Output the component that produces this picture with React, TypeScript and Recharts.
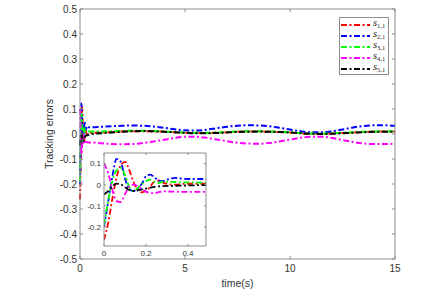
import { LineChart, Line, XAxis, YAxis, Legend } from 'recharts';

// sample times: dense during the transient, coarse afterwards
const time = [
  0, 0.02, 0.04, 0.06, 0.08, 0.1, 0.12, 0.14, 0.16, 0.18, 0.2, 0.22, 0.24, 0.26, 0.28, 0.3, 0.34, 0.38, 0.42, 0.46,
  0.5, 1, 1.5, 2, 2.5, 3, 3.5, 4, 4.5, 5, 5.5, 6, 6.5, 7, 7.5, 8, 8.5, 9, 9.5, 10, 10.5, 11, 11.5, 12, 12.5, 13, 13.5, 14, 14.5, 15,
];

const s11 = [
  -0.262, -0.18, -0.065, 0.035, 0.092, 0.108, 0.07, 0.015, -0.025, -0.036, -0.03, -0.01, 0.015, 0.02, 0.01, 0.004, 0.0, 0.004, 0.005, 0.005,
  0.005, 0.006, 0.008, 0.01, 0.011, 0.011, 0.01, 0.009, 0.007, 0.005, 0.004, 0.004, 0.005, 0.007, 0.009, 0.01, 0.01, 0.009, 0.008, 0.006, 0.003, 0.001, 0.001, 0.002, 0.004, 0.006, 0.008, 0.009, 0.01, 0.01,
];
const s21 = [
  -0.2, -0.08, 0.04, 0.122, 0.108, 0.03, -0.02, -0.03, -0.018, 0.004, 0.04, 0.048, 0.035, 0.02, 0.017, 0.024, 0.032, 0.028, 0.027, 0.027,
  0.027, 0.029, 0.031, 0.033, 0.034, 0.033, 0.03, 0.025, 0.019, 0.015, 0.014, 0.017, 0.023, 0.029, 0.033, 0.035, 0.034, 0.031, 0.025, 0.018, 0.011, 0.007, 0.007, 0.011, 0.018, 0.026, 0.032, 0.035, 0.035, 0.033,
];
const s31 = [
  -0.19, -0.075, 0.02, 0.068, 0.08, 0.045, -0.01, -0.03, -0.016, 0.002, 0.016, 0.024, 0.014, 0.008, 0.014, 0.014, 0.012, 0.011, 0.011, 0.01,
  0.01, 0.01, 0.011, 0.012, 0.013, 0.013, 0.012, 0.01, 0.008, 0.006, 0.005, 0.005, 0.006, 0.008, 0.01, 0.011, 0.011, 0.01, 0.009, 0.007, 0.004, 0.002, 0.002, 0.003, 0.005, 0.007, 0.009, 0.01, 0.011, 0.011,
];
const s41 = [
  0.1, 0.055, -0.025, -0.078, -0.082, -0.045, -0.008, 0.0, -0.006, -0.02, -0.033, -0.039, -0.04, -0.035, -0.032, -0.032, -0.033, -0.034, -0.034, -0.034,
  -0.034, -0.037, -0.04, -0.041, -0.04, -0.036, -0.03, -0.023, -0.016, -0.011, -0.011, -0.015, -0.022, -0.029, -0.035, -0.038, -0.039, -0.036, -0.03, -0.022, -0.015, -0.011, -0.011, -0.016, -0.024, -0.032, -0.038, -0.04, -0.04, -0.039,
];
const s51 = [
  -0.046, -0.03, -0.008, 0.005, 0.002, -0.012, -0.025, -0.03, -0.027, -0.022, -0.018, -0.014, -0.01, -0.008, -0.007, -0.006, -0.005, -0.004, -0.003, -0.002,
  -0.001, 0.003, 0.006, 0.009, 0.011, 0.012, 0.011, 0.009, 0.007, 0.005, 0.003, 0.003, 0.004, 0.006, 0.008, 0.009, 0.01, 0.009, 0.008, 0.006, 0.003, 0.001, 0.0, 0.001, 0.003, 0.005, 0.007, 0.009, 0.009, 0.009,
];

const xTicks = [0, 5, 10, 15];
const yTicks = [0.5, 0.4, 0.3, 0.2, 0.1, 0, -0.1, -0.2, -0.3, -0.4, -0.5];
const insetXTicks = [0, 0.2, 0.4];
const insetYTicks = [0.1, 0, -0.1, -0.2];

const series = [
  { key: 's11', sub: '1,1', color: '#ff0000' },
  { key: 's21', sub: '2,1', color: '#0000ff' },
  { key: 's31', sub: '3,1', color: '#00ff00' },
  { key: 's41', sub: '4,1', color: '#ff00ff' },
  { key: 's51', sub: '5,1', color: '#000000' },
];

const rows = time.map((t, i) => ({ t, s11: s11[i], s21: s21[i], s31: s31[i], s41: s41[i], s51: s51[i] }));

const AXIS = '#8c8c8c';
const TEXT = '#333';
const FONT = '"Liberation Sans", Arial, sans-serif';
const DASH = '6 2.5 2 2.5';

// MATLAB style ticks pointing into the box
const makeTick = (side: string, len: number, size: number, showText: boolean) => (props: any) => {
  const { x, y, payload } = props;
  const v = String(payload.value);
  if (side === 'bottom')
    return (
      <g>
        <line x1={x} x2={x} y1={y} y2={y - len} stroke={AXIS} />
        {showText && (
          <text x={x} y={y + size * 1.3} textAnchor="middle" fontSize={size} fontFamily={FONT} fill={TEXT}>{v}</text>
        )}
      </g>
    );
  if (side === 'top') return <line x1={x} x2={x} y1={y} y2={y + len} stroke={AXIS} />;
  if (side === 'right') return <line x1={x} x2={x - len} y1={y} y2={y} stroke={AXIS} />;
  return (
    <g>
      <line x1={x} x2={x + len} y1={y} y2={y} stroke={AXIS} />
      {showText && (
        <text x={x - 3} y={y} dy="0.35em" textAnchor="end" fontSize={size} fontFamily={FONT} fill={TEXT}>{v}</text>
      )}
    </g>
  );
};

const LegendBox = ({ payload }: any) => (
  <div style={{ background: '#fff', border: `1px solid ${AXIS}`, padding: '1px 1px', boxSizing: 'border-box', width: 50, height: 58 }}>
    {(payload || []).map((p: any) => {
      const s = series.find((d) => d.key === p.dataKey) || series[0];
      return (
        <div key={s.key} style={{ display: 'flex', alignItems: 'center', height: 11 }}>
          <svg width={30} height={6} style={{ display: 'block' }}>
            <line x1={0} x2={29} y1={3} y2={3} stroke={s.color} strokeWidth={2} strokeDasharray={DASH} />
          </svg>
          <span style={{ fontFamily: '"Liberation Serif", serif', fontSize: 10.5, fontStyle: 'italic', marginLeft: 2, lineHeight: '10px', color: '#222' }}>
            s<sub style={{ fontStyle: 'normal', fontSize: 6.5, verticalAlign: '-2px' }}>{s.sub}</sub>
          </span>
        </div>
      );
    })}
  </div>
);

export default function App() {
  return (
    <div style={{ position: 'absolute', left: 0, top: 0, width: 448, height: 291, background: '#fff' }}>
      <LineChart width={448} height={291} data={rows} margin={{ top: 8, right: 52, bottom: 0, left: 40 }}>
        <XAxis
          dataKey="t"
          type="number"
          domain={[0, 15]}
          ticks={xTicks}
          interval={0}
          height={32}
          tickSize={0}
          tickMargin={0}
          axisLine={{ stroke: AXIS }}
          tick={makeTick('bottom', 3, 10, true)}
          label={{
            content: (p: any) => (
              <text x={p.viewBox.x + p.viewBox.width / 2} y={p.viewBox.y + 28} textAnchor="middle" fontSize={10.5} fontFamily={FONT} fill={TEXT}>
                time(s)
              </text>
            ),
          }}
        />
        <XAxis xAxisId="top" orientation="top" dataKey="t" type="number" domain={[0, 15]} ticks={xTicks} interval={0} height={1} tickSize={0} tickMargin={0} axisLine={{ stroke: AXIS }} tick={makeTick('top', 3, 10, false)} allowDataOverflow />
        <YAxis
          type="number"
          domain={[-0.5, 0.5]}
          ticks={yTicks}
          interval={0}
          width={40}
          tickSize={0}
          tickMargin={0}
          axisLine={{ stroke: AXIS }}
          tick={makeTick('left', 3, 10, true)}
          label={{
            content: (p: any) => {
              const cx = p.viewBox.x + 9;
              const cy = p.viewBox.y + p.viewBox.height / 2;
              return (
                <text x={cx} y={cy} dy="0.35em" transform={`rotate(-90, ${cx}, ${cy})`} textAnchor="middle" fontSize={10.5} fontFamily={FONT} fill={TEXT}>
                  Tracking errors
                </text>
              );
            },
          }}
        />
        <YAxis yAxisId="right" orientation="right" type="number" domain={[-0.5, 0.5]} ticks={yTicks} interval={0} width={1} tickSize={0} tickMargin={0} axisLine={{ stroke: AXIS }} tick={makeTick('right', 3, 10, false)} allowDataOverflow />
        <Legend
          layout="vertical"
          align="center"
          verticalAlign="middle"
          content={(props: any) => <LegendBox {...props} />}
          wrapperStyle={{ top: 17, left: 339, width: 50, height: 58 }}
        />
        {series.map((s) => (
          <Line key={s.key} dataKey={s.key} name={`s${s.sub}`} type="monotone" stroke={s.color} strokeWidth={2} strokeDasharray={DASH} dot={false} isAnimationActive={false} />
        ))}
      </LineChart>

      {/* zoomed inset of the first half second */}
      <div style={{ position: 'absolute', left: 0, top: 0 }}>
        <LineChart width={448} height={291} data={rows} margin={{ top: 152, right: 241, bottom: 25, left: 84 }}>
          <XAxis dataKey="t" type="number" domain={[0, 0.486]} ticks={insetXTicks} interval={0} height={20} tickSize={0} tickMargin={0} axisLine={{ stroke: AXIS }} tick={makeTick('bottom', 2, 8, true)} allowDataOverflow />
          <XAxis xAxisId="top" orientation="top" dataKey="t" type="number" domain={[0, 0.486]} ticks={insetXTicks} interval={0} height={1} tickSize={0} tickMargin={0} axisLine={{ stroke: AXIS }} tick={makeTick('top', 2, 8, false)} allowDataOverflow />
          <YAxis type="number" domain={[-0.29, 0.15]} ticks={insetYTicks} interval={0} width={20} tickSize={0} tickMargin={0} axisLine={{ stroke: AXIS }} tick={makeTick('left', 2, 8, true)} allowDataOverflow />
          <YAxis yAxisId="right" orientation="right" type="number" domain={[-0.29, 0.15]} ticks={insetYTicks} interval={0} width={1} tickSize={0} tickMargin={0} axisLine={{ stroke: AXIS }} tick={makeTick('right', 2, 8, false)} allowDataOverflow />
          {series.map((s) => (
            <Line key={s.key} dataKey={s.key} type="monotone" stroke={s.color} strokeWidth={1.8} strokeDasharray={DASH} dot={false} isAnimationActive={false} />
          ))}
        </LineChart>
      </div>
    </div>
  );
}
